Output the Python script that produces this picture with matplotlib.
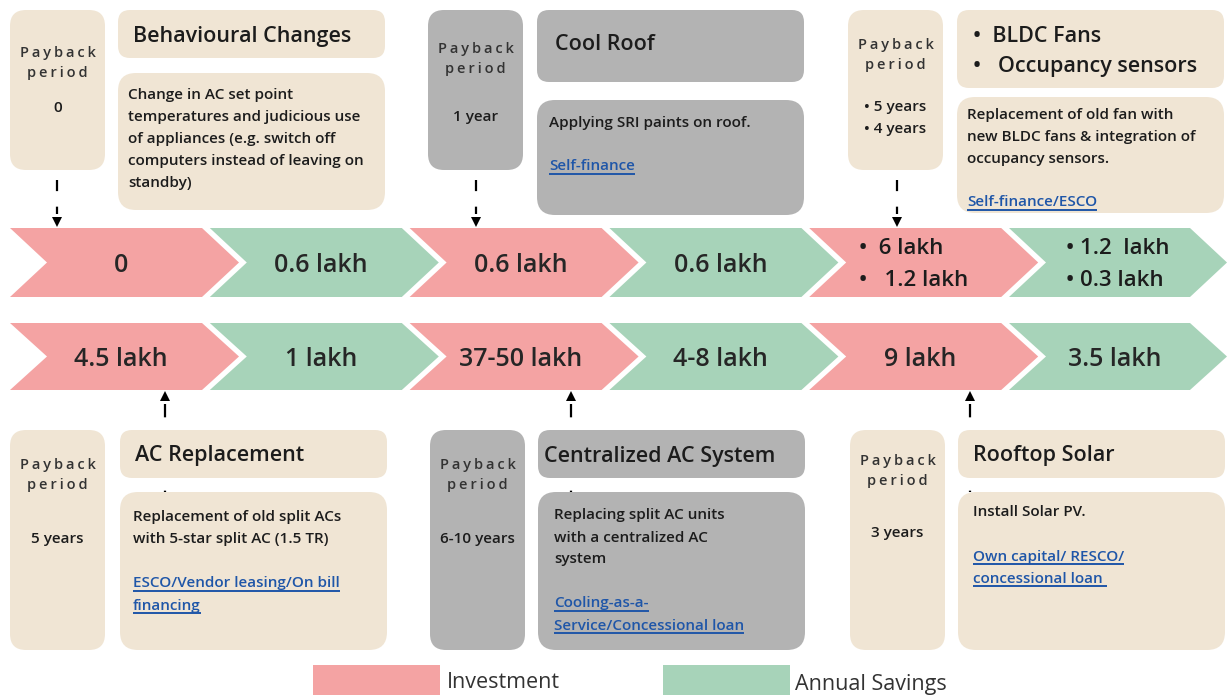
import matplotlib
matplotlib.use("Agg")
import matplotlib.pyplot as plt
from matplotlib.patches import FancyBboxPatch, Polygon, Rectangle

# ---------------- data ----------------
measures = ["Behavioural Changes", "Cool Roof", "•  BLDC Fans\n•   Occupancy sensors",
            "AC Replacement", "Centralized AC System", "Rooftop Solar"]
investment = ["0", "0.6 lakh", "•  6 lakh\n•   1.2 lakh", "4.5 lakh", "37-50 lakh", "9 lakh"]
savings = ["0.6 lakh", "0.6 lakh", "• 1.2  lakh\n• 0.3 lakh", "1 lakh", "4-8 lakh", "3.5 lakh"]
payback = ["0", "1 year", "• 5 years\n• 4 years", "5 years", "6-10 years", "3 years"]
descriptions = [
    "Change in AC set point\ntemperatures and judicious use\nof appliances (e.g. switch off\ncomputers instead of leaving on\nstandby)",
    "Applying SRI paints on roof.",
    "Replacement of old fan with\nnew BLDC fans & integration of\noccupancy sensors.",
    "Replacement of old split ACs\nwith 5-star split AC (1.5 TR)",
    "Replacing split AC units\nwith a centralized AC\nsystem",
    "Install Solar PV.",
]
finance = ["", "Self-finance", "Self-finance/ESCO",
           "ESCO/Vendor leasing/On bill\nfinancing",
           "Cooling-as-a-\nService/Concessional loan",
           "Own capital/ RESCO/\nconcessional loan "]
box_style = ["beige", "gray", "beige", "beige", "gray", "beige"]
legend_labels = ["Investment", "Annual Savings"]

# ---------------- style ----------------
PINK = "#F4A3A3"
GREEN = "#A7D3B9"
BEIGE = "#F0E5D4"
GRAY = "#B3B3B3"
TXT = "#1c1c1c"
LINK = "#1F56A8"
FONT = ["Open Sans", "DejaVu Sans"]
plt.rcParams["font.family"] = FONT
DY = 2.5  # vertical text nudge

W, H = 1228, 695
fig = plt.figure(figsize=(W / 100, H / 100), dpi=100)
ax = fig.add_axes([0, 0, 1, 1])
ax.set_xlim(0, W)
ax.set_ylim(H, 0)
ax.axis("off")

layout = [
    dict(pb=(10, 10, 170), pbl=(50, 70), pbv=105, tb=(118, 10, 58), tl=(133, [34]),
         db=(118, 73, 210), dx=128, dy=92, arrow=57),
    dict(pb=(428, 10, 170), pbl=(46, 67), pbv=115, tb=(537, 10, 82), tl=(555, [42]),
         db=(537, 100, 215), dx=549, dy=120, arrow=476),
    dict(pb=(848, 10, 170), pbl=(42, 63), pbv=105, tb=(957, 10, 88), tl=(973, [34, 64]),
         db=(957, 97, 213), dx=967, dy=112, arrow=897),
    dict(pb=(10, 430, 650), pbl=(463, 483), pbv=536, tb=(120, 430, 478), tl=(135, [453]),
         db=(120, 492, 650), dx=133, dy=515, arrow=165),
    dict(pb=(430, 430, 650), pbl=(463, 483), pbv=536, tb=(538, 430, 478), tl=(544, [454]),
         db=(538, 492, 650), dx=554, dy=513, arrow=571),
    dict(pb=(850, 430, 650), pbl=(458, 478), pbv=531, tb=(958, 430, 478), tl=(973, [453]),
         db=(958, 492, 650), dx=973, dy=510, arrow=970),
]
PBW = 95
BOXW = 267
LSTEP = 22

def rbox(x0, y0, x1, y1, color, r=14, z=2):
    p = FancyBboxPatch((x0, y0), x1 - x0, y1 - y0,
                       boxstyle=f"round,pad=0,rounding_size={r}",
                       fc=color, ec="none", zorder=z)
    ax.add_patch(p)

def spaced(s):
    return "\u2009".join(s)

fig.canvas.draw()
renderer = fig.canvas.get_renderer()

def link_text(x, y, s):
    t = ax.text(x, y + DY, s, fontsize=11, fontweight="semibold", color=LINK,
                ha="left", va="center", zorder=5)
    bb = t.get_window_extent(renderer=renderer)
    inv = ax.transData.inverted()
    (xa, _), (xb, _) = inv.transform([(bb.x0, bb.y0), (bb.x1, bb.y0)])
    ax.plot([xa, xb], [y + 9.5, y + 9.5], color=LINK, lw=1.4, zorder=5,
            solid_capstyle="butt")

# ---------------- chevrons ----------------
rows = [(228, 297), (323, 390)]
CW, CD = 229, 37
for r, (top, bot) in enumerate(rows):
    mid = (top + bot) / 2
    for i in range(6):
        g = r * 3 + i // 2
        label = investment[g] if i % 2 == 0 else savings[g]
        color = PINK if i % 2 == 0 else GREEN
        x0 = 10 + 199.8 * i
        w = min(CW, W - 1 - x0)
        pts = [(x0, top), (x0 + w - CD, top), (x0 + w, mid),
               (x0 + w - CD, bot), (x0, bot), (x0 + CD, mid)]
        ax.add_patch(Polygon(pts, closed=True, fc=color, ec="none", zorder=1))
        cx = x0 + 15 + (w - CD) / 2
        if "\n" in label:
            lines = label.split("\n")
            lx = x0 + 50 if i % 2 == 0 else x0 + 57
            for j, ln in enumerate(lines):
                ax.text(lx, mid - 16 + j * 31 + DY, ln, fontsize=16, fontweight="semibold",
                        color=TXT, ha="left", va="center", zorder=3)
        else:
            ax.text(cx, mid + (0 if r == 0 else 1) + DY, label, fontsize=18,
                    fontweight="semibold", color="#262626",
                    ha="center", va="center", zorder=3)

# ---------------- info groups ----------------
for g, L in enumerate(layout):
    col = BEIGE if box_style[g] == "beige" else GRAY
    px, py0, py1 = L["pb"]
    rbox(px, py0, px + PBW, py1, col, r=16)
    pcx = px + PBW / 2
    ax.text(pcx, L["pbl"][0] + DY, spaced("Payback"), fontsize=10.5, fontweight="semibold",
            color="#333333", ha="center", va="center", zorder=3)
    ax.text(pcx, L["pbl"][1] + DY, spaced("period"), fontsize=10.5, fontweight="semibold",
            color="#333333", ha="center", va="center", zorder=3)
    pv = payback[g].split("\n")
    for j, ln in enumerate(pv):
        ax.text(pcx, L["pbv"] + j * 22 + DY, ln, fontsize=11, fontweight="semibold",
                color=TXT, ha="center", va="center", zorder=3)
    tx, ty0, ty1 = L["tb"]
    rbox(tx, ty0, tx + BOXW, ty1, col, r=12)
    tl_x, tl_ys = L["tl"]
    for ln, yy in zip(measures[g].split("\n"), tl_ys):
        ax.text(tl_x, yy + DY, ln, fontsize=15.5, fontweight="semibold", color=TXT,
                ha="left", va="center", zorder=3)
    dx0, dy0, dy1 = L["db"]
    rbox(dx0, dy0, dx0 + BOXW, dy1, col, r=18)
    lines = descriptions[g].split("\n")
    for j, ln in enumerate(lines):
        ax.text(L["dx"], L["dy"] + j * LSTEP + DY, ln, fontsize=11, fontweight="semibold",
                color=TXT, ha="left", va="center", zorder=3)
    if finance[g]:
        y_link = L["dy"] + (len(lines) - 1) * LSTEP + 44
        for j, ln in enumerate(finance[g].split("\n")):
            link_text(L["dx"], y_link + j * 22.5, ln)
    axx = L["arrow"]
    if g < 3:
        ax.plot([axx, axx], [180, 214], color="black", lw=1.6,
                linestyle=(0, (5, 7)), zorder=0)
        ax.add_patch(Polygon([(axx - 5, 217), (axx + 5, 217), (axx, 227)],
                             closed=True, fc="black", ec="none", zorder=4))
    else:
        ax.plot([axx, axx], [404, 492], color="black", lw=1.6,
                linestyle=(0, (6, 7)), zorder=0)
        ax.add_patch(Polygon([(axx - 5, 401), (axx + 5, 401), (axx, 391)],
                             closed=True, fc="black", ec="none", zorder=4))

# ---------------- legend ----------------
ax.add_patch(Rectangle((313, 665), 127, 30, fc=PINK, ec="none", zorder=1))
ax.text(447, 680 + DY, legend_labels[0], fontsize=15.5, color="#333333",
        ha="left", va="center", zorder=3)
ax.add_patch(Rectangle((663, 665), 127, 30, fc=GREEN, ec="none", zorder=1))
ax.text(795, 682 + DY, legend_labels[1], fontsize=15.5, color="#333333",
        ha="left", va="center", zorder=3)

fig.savefig("out.png", dpi=100)
